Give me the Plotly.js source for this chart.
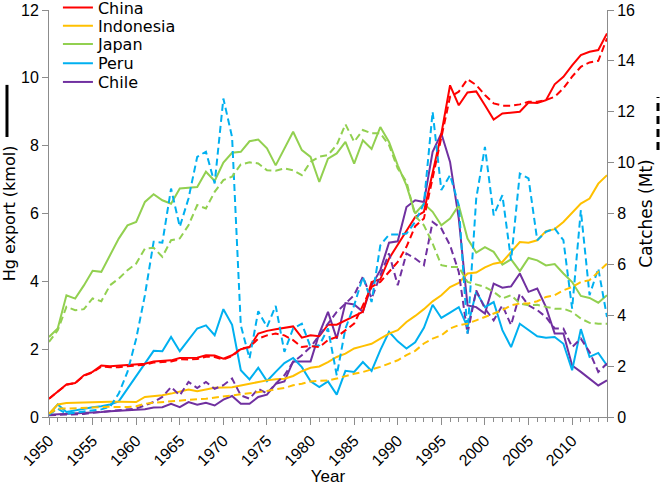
<!DOCTYPE html>
<html>
<head>
<meta charset="utf-8">
<script src="https://cdn.plot.ly/plotly-3.0.1.min.js"></script>
<style>html,body{margin:0;padding:0;background:#fff;}#chart{width:666px;height:486px;}</style>
</head>
<body>
<div id="chart"></div>
<script>
const years = [
  1950,1951,1952,1953,1954,1955,1956,1957,1958,1959,
  1960,1961,1962,1963,1964,1965,1966,1967,1968,1969,
  1970,1971,1972,1973,1974,1975,1976,1977,1978,1979,
  1980,1981,1982,1983,1984,1985,1986,1987,1988,1989,
  1990,1991,1992,1993,1994,1995,1996,1997,1998,1999,
  2000,2001,2002,2003,2004,2005,2006,2007,2008,2009,
  2010,2011,2012,2013,2014];

const countries = ['China','Indonesia','Japan','Peru','Chile'];
const colors = ['#FF0000','#FFC000','#92D050','#00B0F0','#7030A0'];

// Hg export (kmol), left axis - solid lines
const chinaHg = [
  0.54,0.74,0.96,1.00,1.23,1.33,1.52,1.50,1.52,1.55,
  1.55,1.57,1.64,1.65,1.67,1.74,1.74,1.75,1.82,1.81,
  1.72,1.82,2.00,2.06,2.46,2.54,2.59,2.63,2.67,2.34,
  2.41,2.38,2.72,2.72,2.85,2.97,3.10,3.98,4.06,4.67,
  5.08,5.50,5.90,6.05,7.20,8.35,9.78,9.19,9.57,9.60,
  9.19,8.77,8.95,8.98,9.00,9.27,9.26,9.34,9.81,10.03,
  10.37,10.67,10.77,10.82,11.31];
const indoHg = [
  0.10,0.37,0.41,0.42,0.44,0.45,0.46,0.45,0.45,0.44,
  0.44,0.59,0.61,0.64,0.69,0.76,0.81,0.76,0.81,0.86,
  0.87,0.88,0.93,0.98,1.05,1.08,1.11,1.13,1.21,1.35,
  1.45,1.49,1.62,1.77,1.87,2.02,2.09,2.16,2.31,2.46,
  2.56,2.80,2.98,3.18,3.41,3.59,3.83,3.95,4.23,4.26,
  4.41,4.52,4.57,4.87,5.16,5.14,5.21,5.48,5.54,5.75,
  6.03,6.29,6.44,6.88,7.13];
const japanHg = [
  2.36,2.61,3.59,3.49,3.88,4.31,4.28,4.77,5.26,5.65,
  5.75,6.34,6.57,6.39,6.29,6.74,6.76,6.78,7.23,6.96,
  7.50,7.79,7.82,8.13,8.18,7.92,7.42,7.92,8.41,7.87,
  7.67,6.93,7.62,7.77,8.11,7.47,8.16,7.90,8.55,8.11,
  7.42,6.83,6.00,6.29,6.05,5.65,5.85,6.24,5.26,4.85,
  5.01,4.87,4.49,4.65,4.30,4.69,4.62,4.47,4.51,4.23,
  3.98,3.57,3.51,3.37,3.59];
const peruHg = [
  0.07,0.37,0.15,0.20,0.25,0.29,0.32,0.37,0.46,0.84,
  1.21,1.57,1.95,1.94,2.36,1.94,2.28,2.61,2.70,2.41,
  3.18,2.72,1.38,1.11,1.45,1.06,1.33,1.59,1.74,1.47,
  1.05,0.88,1.05,0.66,1.36,1.33,1.62,1.36,1.97,2.51,
  2.23,2.02,2.20,2.63,3.31,2.92,3.08,3.24,2.65,3.69,
  3.24,3.39,2.56,2.06,2.75,2.56,2.38,2.34,2.36,2.16,
  1.38,2.59,1.77,1.89,1.52];
const chileHg = [
  0.07,0.08,0.09,0.10,0.11,0.13,0.15,0.17,0.18,0.19,
  0.20,0.23,0.28,0.29,0.39,0.29,0.44,0.36,0.42,0.34,
  0.51,0.62,0.39,0.39,0.59,0.66,0.98,1.05,1.64,1.64,
  1.64,2.46,3.10,2.31,3.36,3.32,3.10,3.88,4.33,5.14,
  5.18,6.19,6.39,6.34,7.82,8.36,7.52,5.85,3.29,3.24,
  3.05,3.93,3.81,3.85,4.23,3.69,3.79,3.24,2.46,2.46,
  1.52,1.33,1.13,0.93,1.08];

// Catches (Mt), right axis - dashed lines
const chinaCatch = [
  0.72,0.99,1.27,1.33,1.62,1.75,1.98,1.96,1.96,2.00,
  2.03,2.05,2.14,2.15,2.18,2.27,2.26,2.28,2.37,2.36,
  2.26,2.39,2.69,2.75,3.08,3.21,3.28,3.21,3.02,2.75,
  2.79,2.75,3.02,3.15,3.41,3.67,4.39,5.11,5.31,5.70,
  6.10,6.69,7.50,7.80,9.38,11.08,12.59,12.79,13.28,13.05,
  12.66,12.33,12.24,12.24,12.29,12.39,12.39,12.46,12.59,12.92,
  13.38,13.77,13.94,14.00,14.89];
const indoCatch = [
  0.13,0.33,0.33,0.35,0.35,0.39,0.39,0.40,0.39,0.39,
  0.42,0.52,0.56,0.59,0.62,0.66,0.68,0.70,0.72,0.76,
  0.81,0.85,0.88,0.94,0.98,1.02,1.09,1.14,1.25,1.31,
  1.40,1.41,1.44,1.51,1.61,1.70,1.77,1.86,1.97,2.10,
  2.23,2.43,2.60,2.89,3.08,3.21,3.48,3.61,3.67,3.80,
  3.93,4.07,4.20,4.39,4.46,4.46,4.55,4.72,4.79,4.98,
  5.11,5.31,5.38,5.70,6.03];
const japanCatch = [
  2.95,3.41,4.33,4.20,4.24,4.66,4.55,5.18,5.44,5.77,
  6.03,6.62,6.65,6.30,6.95,7.02,7.54,8.33,8.20,8.85,
  9.31,9.45,9.93,10.01,9.97,9.70,9.68,9.77,9.70,9.51,
  10.03,10.23,10.30,10.69,11.51,10.82,11.28,11.15,11.15,10.69,
  9.77,9.25,7.90,7.54,6.82,5.97,5.90,5.90,5.31,5.21,
  5.11,4.92,4.66,4.79,4.46,4.39,4.41,4.33,4.26,4.26,
  4.13,3.87,3.70,3.67,3.67];
const peruCatch = [
  0.09,0.33,0.13,0.17,0.22,0.26,0.30,0.40,0.92,1.77,
  3.08,4.79,6.89,6.85,8.98,7.48,8.59,10.23,10.43,9.18,
  12.52,11.00,3.60,2.30,4.16,3.54,4.37,2.56,3.48,3.67,
  2.75,2.82,3.48,1.64,3.48,4.39,5.51,4.52,6.75,7.17,
  7.17,7.21,7.67,8.39,12.00,8.92,9.51,8.33,3.28,8.59,
  10.62,7.93,8.72,6.16,9.57,9.38,6.95,7.28,7.41,6.95,
  4.26,8.13,4.79,5.84,3.93];
const chileCatch = [
  0.07,0.08,0.10,0.11,0.12,0.17,0.20,0.22,0.25,0.30,
  0.33,0.46,0.59,0.79,1.18,0.85,1.38,1.14,1.38,1.11,
  1.25,1.51,0.85,0.72,1.11,0.92,1.31,1.64,2.16,2.43,
  2.75,3.21,3.67,4.13,4.46,4.79,5.51,4.66,5.57,6.43,
  5.18,6.43,6.23,5.97,7.67,7.41,6.75,5.70,3.28,4.98,
  4.26,3.80,4.39,3.61,4.85,4.39,4.20,3.93,3.48,3.48,
  2.75,3.08,2.56,1.77,2.10];

const hgSeries = [chinaHg, indoHg, japanHg, peruHg, chileHg];
const catchSeries = [chinaCatch, indoCatch, japanCatch, peruCatch, chileCatch];

const traces = [];
for (let i = countries.length - 1; i >= 0; i--) {
  traces.push({
    x: years, y: catchSeries[i], type: 'scatter', mode: 'lines', yaxis: 'y2',
    name: countries[i] + ' catches', showlegend: false,
    line: {color: colors[i], width: 2, dash: '7px,4px'}
  });
}
for (let i = countries.length - 1; i >= 0; i--) {
  traces.push({
    x: years, y: hgSeries[i], type: 'scatter', mode: 'lines',
    name: countries[i], legend: i === 0 ? 'legend' : 'legend' + (i + 1),
    line: {color: colors[i], width: 2}
  });
}

const axisGray = '#8c8c8c';
const legendRowsY = [1.006, 0.961, 0.916, 0.869, 0.823];
function mkLegend(k) {
  return {x: 0.016, y: legendRowsY[k], xanchor: 'left', yanchor: 'middle',
    bgcolor: 'rgba(0,0,0,0)', borderwidth: 0,
    font: {family: 'DejaVu Sans', size: 16, color: '#000'}};
}

const layout = {
  width: 666, height: 486,
  margin: {l: 49, r: 59, t: 10, b: 69, pad: 0, autoexpand: false},
  paper_bgcolor: '#fff', plot_bgcolor: '#fff',
  font: {family: 'Liberation Sans, Arial, sans-serif', size: 16, color: '#000'},
  showlegend: true,
  legend: mkLegend(0), legend2: mkLegend(1), legend3: mkLegend(2),
  legend4: mkLegend(3), legend5: mkLegend(4),
  xaxis: {
    range: [1950, 2014], tickmode: 'linear', tick0: 1950, dtick: 5,
    ticks: 'outside', ticklen: 7, tickwidth: 1, tickcolor: axisGray,
    showline: true, linecolor: axisGray, linewidth: 1,
    showgrid: false, zeroline: false, tickangle: -45,
    tickfont: {family: 'Liberation Sans, Arial', size: 16, color: '#000'},
    minor: {dtick: 1, tick0: 1950, ticks: 'outside', ticklen: 4, tickwidth: 1, tickcolor: axisGray, showgrid: false},
    title: {text: 'Year', font: {family: 'Liberation Sans, Arial', size: 17, color: '#000'}, standoff: 4}
  },
  yaxis: {
    range: [0, 12], tickmode: 'linear', tick0: 0, dtick: 2,
    ticks: 'outside', ticklen: 6, tickwidth: 1, tickcolor: axisGray,
    showline: true, linecolor: axisGray, linewidth: 1,
    showgrid: false, zeroline: false,
    tickfont: {family: 'Liberation Sans, Arial', size: 16, color: '#000'},
    title: {text: 'Hg export (kmol)', font: {family: 'DejaVu Sans', size: 16, color: '#000'}, standoff: 6}
  },
  yaxis2: {
    range: [0, 16], tickmode: 'linear', tick0: 0, dtick: 2,
    overlaying: 'y', side: 'right',
    ticks: 'outside', ticklen: 6, tickwidth: 1, tickcolor: axisGray,
    showline: true, linecolor: axisGray, linewidth: 1,
    showgrid: false, zeroline: false,
    tickfont: {family: 'Liberation Sans, Arial', size: 16, color: '#000'},
    title: {text: 'Catches (Mt)', font: {family: 'DejaVu Sans', size: 17, color: '#000'}, standoff: 6}
  },
  shapes: [
    {type: 'line', xref: 'paper', yref: 'paper', x0: -0.0753, x1: -0.0753, y0: 0.688, y1: 0.816,
     line: {color: '#000', width: 3}},
    {type: 'line', xref: 'paper', yref: 'paper', x0: 1.0914, x1: 1.0914, y0: 0.656, y1: 0.786,
     line: {color: '#000', width: 3, dash: '8px,5px'}}
  ]
};

Plotly.newPlot('chart', traces, layout, {staticPlot: true, displayModeBar: false});
</script>
</body>
</html>
